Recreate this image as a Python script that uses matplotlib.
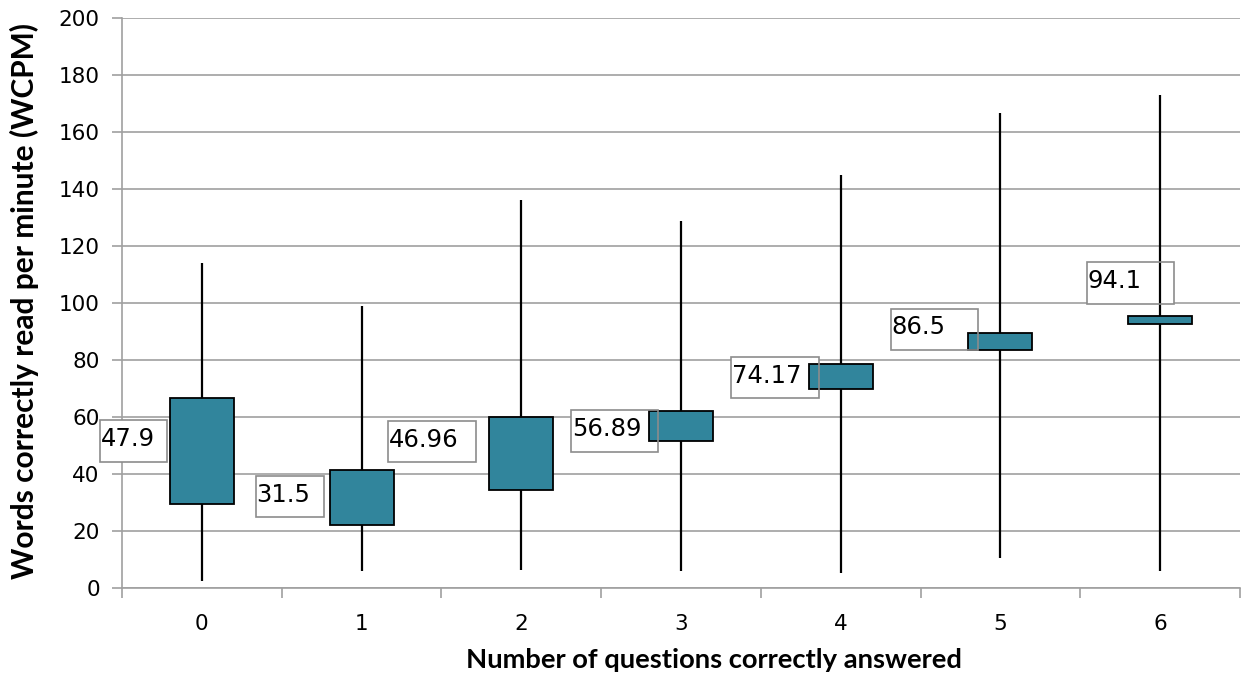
import numpy as np
import matplotlib.pyplot as plt
from matplotlib.patches import Rectangle

# WCPM spread by number of comprehension questions answered
categories = ['0', '1', '2', '3', '4', '5', '6']
wcpm_min = [2.3, 5.7, 6.2, 5.7, 5.0, 10.3, 5.8]
wcpm_max = [113.8, 98.8, 136.1, 128.7, 145.0, 166.5, 173.0]
box_low = [29.3, 21.8, 34.2, 51.6, 69.8, 83.5, 92.5]
box_high = [66.6, 41.3, 59.8, 62.1, 78.5, 89.3, 95.5]
means = [47.9, 31.5, 46.96, 56.89, 74.17, 86.5, 94.1]

# where the mean labels sit (left offset from category, width, bottom)
lab_dx = [-0.639, -0.662, -0.835, -0.688, -0.684, -0.687, -0.457]
lab_w = [0.42, 0.426, 0.552, 0.545, 0.549, 0.546, 0.544]
lab_bottom = [44.2, 24.6, 43.9, 47.7, 66.4, 83.3, 99.7]
lab_h = 14.5

teal = '#31859c'
grid_col = '#a0a0a0'

fig = plt.figure(figsize=(12.43, 6.77), dpi=100)
ax = fig.add_axes([122/1243, 89.5/677, 1118/1243, 569.5/677])

x = np.arange(len(categories))
ax.vlines(x, wcpm_min, wcpm_max, color='black', lw=1.6, zorder=3)
ax.bar(x, np.array(box_high) - np.array(box_low), bottom=box_low, width=0.4,
       color=teal, edgecolor='black', linewidth=1.3, zorder=3.5)

for i, m in enumerate(means):
    x0 = i + lab_dx[i]
    ax.add_patch(Rectangle((x0, lab_bottom[i]), lab_w[i], lab_h, facecolor='white',
                           edgecolor='none', zorder=2.8, clip_on=False))
    ax.add_patch(Rectangle((x0, lab_bottom[i]), lab_w[i], lab_h, facecolor='none',
                           edgecolor='#8c8c8c', lw=1.2, zorder=4, clip_on=False))
    ax.text(x0 + 0.004, lab_bottom[i] + lab_h/2 + 0.8, f'{m:g}', fontsize=17.5,
            ha='left', va='center', zorder=5, clip_on=False)

ax.set_xlim(-0.5, 6.5)
ax.set_ylim(0, 200)
ax.set_yticks(range(0, 201, 20))
ax.yaxis.grid(True, color=grid_col, lw=1.2)
ax.set_axisbelow(True)

ax.set_xticks(np.arange(-0.5, 7, 1))
ax.set_xticklabels([])
ax.set_xticks(x, minor=True)
ax.set_xticklabels(categories, minor=True)
ax.tick_params(axis='x', which='major', length=7, width=1.2, color=grid_col)
ax.tick_params(axis='x', which='minor', length=0, pad=19, labelsize=15.5)
ax.tick_params(axis='y', length=7, width=1.2, color=grid_col, pad=9, labelsize=15.5)

for s in ['top', 'right']:
    ax.spines[s].set_visible(False)
for s in ['left', 'bottom']:
    ax.spines[s].set_color(grid_col)
    ax.spines[s].set_linewidth(1.2)

fig.text(713.5/1243, 17/677, 'Number of questions correctly answered', family='Lato',
         fontweight='bold', fontsize=19.7, ha='center', va='center')
fig.text(24/1243, 376/677, 'Words correctly read per minute (WCPM)', family='Lato',
         fontweight='bold', fontsize=21.5, ha='center', va='center', rotation=90)

fig.savefig('out.png', dpi=100)
